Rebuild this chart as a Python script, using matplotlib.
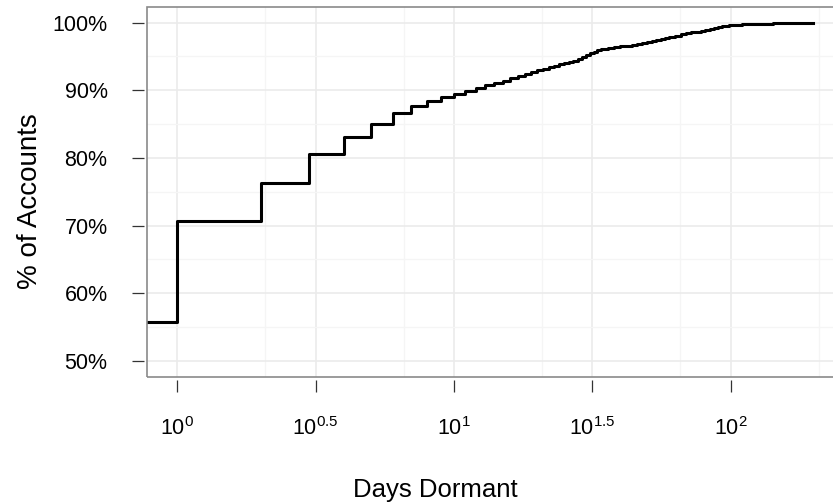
import matplotlib
matplotlib.use('Agg')
import matplotlib.pyplot as plt
import numpy as np
from matplotlib.patches import Rectangle

plt.rcParams['font.family'] = ['Liberation Sans', 'DejaVu Sans']
plt.rcParams['mathtext.fontset'] = 'custom'
plt.rcParams['mathtext.rm'] = 'Liberation Sans'
plt.rcParams['mathtext.it'] = 'Liberation Sans:italic'

# ECDF of days dormant (0 = same day, drawn at the left edge like ggplot does with -Inf)
days = [0, 1, 2, 3, 4, 5, 6, 7, 8, 9,
        10, 11, 12, 13, 14, 15, 16, 17, 18, 19,
        20, 21, 22, 23, 24, 25, 26, 27, 28, 29,
        30, 31, 32, 33, 34, 35, 36, 37, 38, 39,
        40, 42, 44, 46, 48, 50, 52, 54, 56, 58,
        60, 63, 66, 69, 72, 75, 78, 81, 84, 87,
        90, 93, 96, 99, 105, 110, 115, 120, 130, 142,
        155, 170, 185, 198]
pct = [55.8, 70.7, 76.35, 80.6, 83.05, 85.0, 86.7, 87.7, 88.47, 89.06,
       89.46, 89.9, 90.35, 90.75, 91.1, 91.45, 91.8, 92.1, 92.4, 92.7,
       92.95, 93.2, 93.45, 93.65, 93.85, 94.0, 94.15, 94.35, 94.6, 94.9,
       95.2, 95.45, 95.7, 95.9, 96.05, 96.15, 96.25, 96.3, 96.4, 96.45,
       96.5, 96.6, 96.75, 96.9, 97.05, 97.2, 97.3, 97.45, 97.65, 97.8,
       97.95, 98.1, 98.3, 98.45, 98.55, 98.65, 98.75, 98.9, 99.05, 99.2,
       99.35, 99.45, 99.55, 99.62, 99.7, 99.76, 99.81, 99.84, 99.87, 99.91,
       99.94, 99.96, 99.98, 100.0]

x_exps = [0, 0.5, 1, 1.5, 2]
y_ticks = [50, 60, 70, 80, 90, 100]
y_minor = [55, 65, 75, 85, 95]

xlo, xhi = 10 ** -0.1106, 10 ** 2.41
ylo, yhi = 47.68, 102.36

fig = plt.figure(figsize=(8.33, 5.03), dpi=100)
ax = fig.add_axes([0.1761, 0.2511, 0.837, 0.7356])

d = np.array(days, dtype=float)
xs = np.where(d == 0, xlo, d)
ax.step(xs, pct, where='post', color='black', lw=2.2, zorder=3)

ax.set_xscale('log')
ax.set_xlim(xlo, xhi)
ax.set_ylim(ylo, yhi)

major_x = [10 ** e for e in x_exps]
minor_x = [(a + b) / 2 for a, b in zip(major_x[:-1], major_x[1:])]
minor_x.append((10 ** 2 + 10 ** 2.5) / 2)
ax.set_xticks(major_x)
ax.set_xticklabels([r'$\mathregular{10^{%g}}$' % e for e in x_exps])
ax.set_xticks(minor_x, minor=True)
ax.set_yticks(y_ticks)
ax.set_yticklabels(['%d%%' % v for v in y_ticks])
ax.set_yticks(y_minor, minor=True)

ax.grid(which='major', color='#EBEBEB', lw=1.2)
ax.grid(which='minor', color='#F5F5F5', lw=0.9)
ax.set_axisbelow(True)

for s in ['top', 'right']:
    ax.spines[s].set_visible(False)
for s in ['left', 'bottom']:
    ax.spines[s].set_position(('outward', 2.2))
    ax.spines[s].set_color('none')
ax.add_patch(Rectangle((0, 0), 1, 1, transform=ax.transAxes, fill=False,
                       ec='#8A8A8A', lw=1.2, clip_on=False, zorder=4))

ax.tick_params(which='major', direction='out', length=8.5, width=0.9,
               color='#333333', labelsize=15.5, labelcolor='black')
ax.tick_params(which='minor', length=0)
ax.tick_params(axis='y', pad=17.5)
ax.tick_params(axis='x', pad=18.5)

fig.text(435 / 833, (503 - 496.7) / 503, 'Days Dormant', ha='center',
         va='baseline', fontsize=18.5)
fig.text(30 / 833, 1 - 200.8 / 503, '% of Accounts', rotation=90,
         ha='center', va='center', fontsize=20)

fig.savefig('out.png', dpi=100)
